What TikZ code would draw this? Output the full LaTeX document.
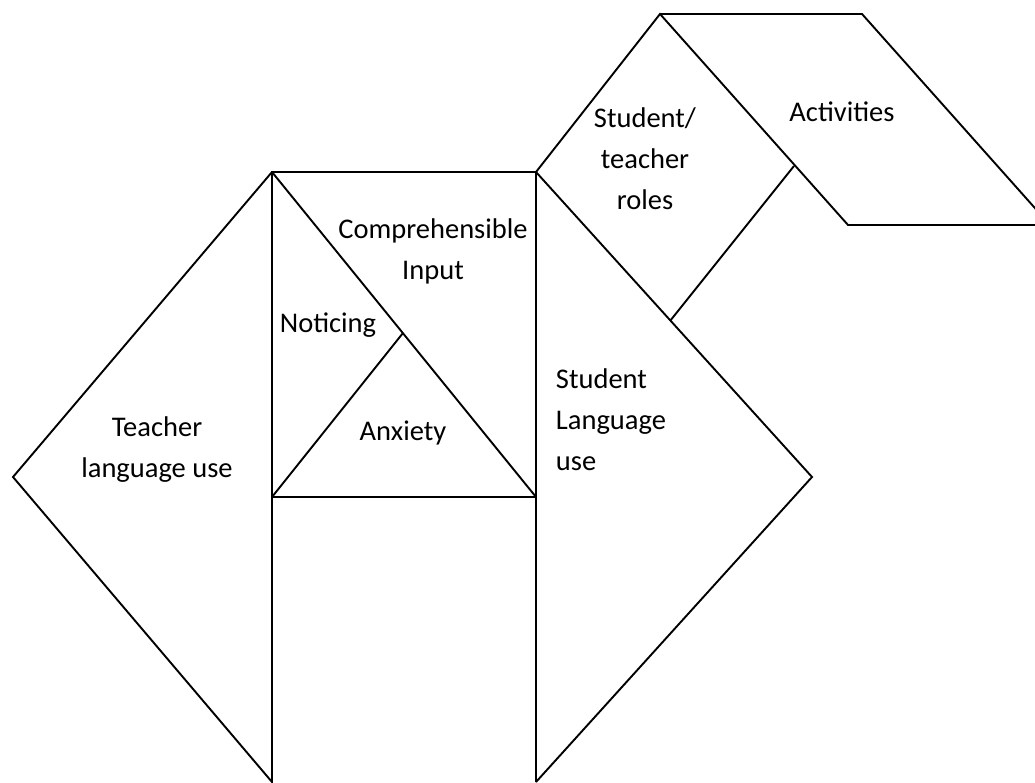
\documentclass[tikz,border=0pt]{standalone}
\usepackage{fontspec}
\setmainfont{Carlito}
\usepackage{tikz}
\usetikzlibrary{positioning}
\tikzset{every picture/.style={line width=1.9pt}}
\tikzstyle{lbl}=[align=center,inner sep=0pt,font=\fontsize{28.5}{41}\selectfont]

\begin{document}
\begin{tikzpicture}
  [x=1pt,y=-1pt,line join=miter]
\clip (0,0) rectangle (1035,783);
% corners of the pieces
\coordinate (tl) at (272,172);
\coordinate (tr) at (536,172);
\coordinate (ml) at (272,497);
\coordinate (mr) at (536,497);
\coordinate (bl) at (272,782);
\coordinate (br) at (536,782);
\coordinate (la) at (13,477);
\coordinate (ra) at (812,477);
\coordinate (ax) at (403,333);
\coordinate (st) at (660,14);
\coordinate (sb) at (670,321);
\coordinate (sr) at (794,166);
\coordinate (pb) at (848,225);
\coordinate (pt) at (862,14);
\coordinate (pr) at (1050,225);
% pieces
\draw (tl) -- (la) -- (bl) -- (tl) -- (tr) -- (br);
\draw (ml) -- (mr) (tl) -- (mr) (ml) -- (ax);
\draw (tr) -- (ra) -- (br);
\draw (tr) -- (st) -- (pb) -- (pr) -- (pt) -- (st);
\draw (sr) -- (sb);
% labels
\node[lbl] (tch) at (157,450) {Teacher\\language use};
\node[lbl] (ci) at (433,251) {Comprehensible\\Input};
\node[lbl] (nt) at (328,325) {Noticing};
\node[lbl] (anx) at (403,433) {Anxiety};
\node[lbl,align=left,anchor=west] (stu) at (555,420) {Student\\Language\\use};
\node[lbl] (rol) at (645,159) {Student/\\teacher\\roles};
\node[lbl] (act) at (842,112) {Activities};
\end{tikzpicture}
\end{document}
